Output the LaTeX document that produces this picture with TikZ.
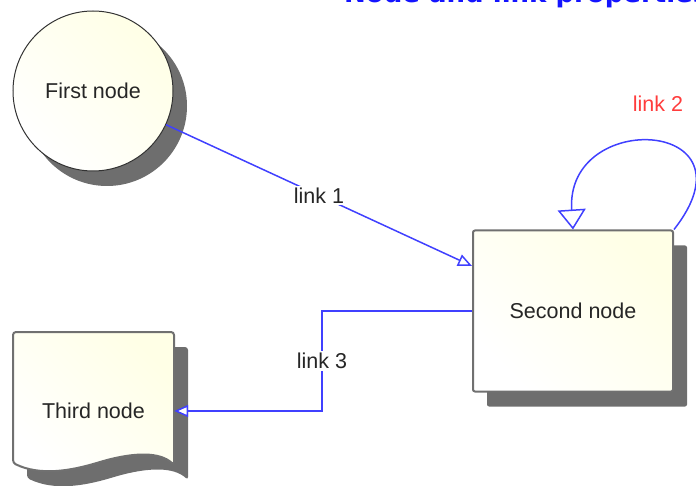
\documentclass[tikz,border=0pt]{standalone}
\usepackage{fontspec}
\setmainfont{Liberation Sans}
\newfontfamily\headfont{DejaVu Sans}
\usetikzlibrary{arrows.meta,shadows,positioning}
\definecolor{linkblue}{RGB}{64,64,255}
\definecolor{nodefill}{RGB}{255,255,230}
\definecolor{shadowgray}{RGB}{110,110,110}
\definecolor{bordergray}{RGB}{112,112,112}
\definecolor{titleblue}{RGB}{20,20,255}
\definecolor{labelred}{RGB}{255,60,60}
\tikzset{
  nodetext/.style={text=black!85,font=\fontsize{21.5}{26}\selectfont},
  nodeshade/.style={top color=nodefill,bottom color=white,shading angle=-45},
  shadowed/.style={drop shadow={shadow xshift=14pt,shadow yshift=-15pt,fill=shadowgray,opacity=1}},
  link/.style={color=linkblue,line width=1.5pt},
  linklabel/.style={fill=white,text=black!85,inner sep=2pt,font=\fontsize{21.5}{26}\selectfont},
  opentip/.style={-{Triangle[open,fill=white,length=14pt,width=12pt]}},
}
\begin{document}
\begin{tikzpicture}[x=1pt,y=-1pt]
\useasboundingbox (0,0) rectangle (696,486);
\clip (0,0) rectangle (696,486);
% heading, cut off by the top edge
\node[anchor=base west,inner sep=0,text=titleblue,font=\headfont\bfseries\fontsize{26}{32}\selectfont] (title) at (344,3) {Node and link properties};
% nodes
\node[circle,minimum size=160pt,inner sep=0,draw=black!80,line width=1pt,nodeshade,nodetext,shadowed] (first) at (93,91) {First node};
\node[rectangle,minimum width=200pt,minimum height=161pt,rounded corners=2pt,draw=bordergray,line width=2pt,nodeshade,nodetext,shadowed] (second) at (573,311) {Second node};
% third node is a page with a wavy foot
\fill[shadowgray,xshift=14pt,yshift=-15pt,rounded corners=3pt] (13,332) -- (174,332) -- (174,465) .. controls (160,452) and (135,452) .. (100,462) .. controls (70,471) and (40,476) .. (13,463) -- cycle;
\draw[bordergray,line width=2pt,nodeshade,rounded corners=3pt] (13,332) -- (174,332) -- (174,465) .. controls (160,452) and (135,452) .. (100,462) .. controls (70,471) and (40,476) .. (13,463) -- cycle;
\node[minimum width=161pt,minimum height=60pt,nodetext] (third) at (93.5,411) {Third node};
% links
\draw[link,opentip](first)--node[linklabel] (lbl1) {link 1}([yshift=45pt]second.west);
\draw[link,-{Triangle[open,fill=white,length=20pt,width=28pt]}](second.north east) .. controls +(87,-111) and +(-8,-121) .. (second.north);
\node[text=labelred,font=\fontsize{21.5}{26}\selectfont] (lbl2) at (658,104) {link 2};
\draw[link,opentip](second.west)-- ++(-150,0) |- node[linklabel,pos=.25] (lbl3) {link 3}(third.east);
\end{tikzpicture}
\end{document}
